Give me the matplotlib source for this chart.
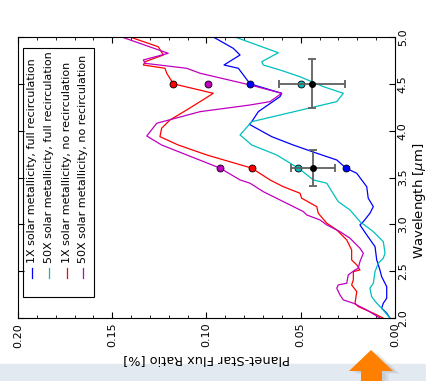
import matplotlib
matplotlib.use("Agg")
import matplotlib.pyplot as plt
from matplotlib.patches import Rectangle, Polygon
from matplotlib.lines import Line2D
from matplotlib.ticker import MultipleLocator

"================================================="
" Modelos (longitud de onda en um, cociente de flujo en %)"
wl_blue = [5.0, 4.879, 4.808, 4.719, 4.701, 4.666, 4.5, 4.399, 4.363, 4.203, 4.096, 4.068,
           3.936, 3.847, 3.759, 3.687, 3.6, 3.545, 3.402, 3.279, 3.189, 3.118, 3.029, 2.994,
           2.887, 2.762, 2.62, 2.513, 2.442, 2.335, 2.211, 2.158, 2.105, 2.051, 2.0]
fx_blue = [0.0964, 0.0858, 0.0822, 0.0893, 0.0907, 0.0831, 0.0769, 0.0601, 0.061, 0.0725,
           0.076, 0.0773, 0.0654, 0.054, 0.0415, 0.0309, 0.026, 0.0203, 0.015, 0.0142,
           0.0115, 0.0133, 0.0168, 0.0186, 0.015, 0.0106, 0.0097, 0.008, 0.0071, 0.0044,
           0.0044, 0.0062, 0.0071, 0.0044, 0.0027]

wl_cyan = [5.0, 4.832, 4.736, 4.701, 4.648, 4.576, 4.47, 4.399, 4.31, 4.096, 3.954, 3.847,
           3.741, 3.6, 3.474, 3.439, 3.296, 3.242, 3.154, 3.029, 2.922, 2.815, 2.692, 2.638,
           2.585, 2.495, 2.371, 2.318, 2.228, 2.158, 2.105, 2.0]
fx_cyan = [0.0849, 0.0619, 0.0707, 0.0699, 0.061, 0.0504, 0.038, 0.0274, 0.0309, 0.076,
           0.0822, 0.076, 0.0628, 0.0513, 0.0433, 0.0362, 0.0318, 0.0301, 0.0239, 0.0186,
           0.0115, 0.0062, 0.0053, 0.0062, 0.0089, 0.0106, 0.0115, 0.0133, 0.0124, 0.0097,
           0.0071, 0.0027]

wl_red = [5.0, 4.896, 4.808, 4.736, 4.701, 4.666, 4.613, 4.5, 4.399, 4.31, 4.221, 4.114,
          4.026, 3.936, 3.847, 3.741, 3.6, 3.474, 3.402, 3.332, 3.279, 3.189, 3.118, 3.012,
          2.94, 2.833, 2.727, 2.62, 2.567, 2.513, 2.495, 2.407, 2.353, 2.282, 2.158, 2.122,
          2.051, 2.0]
fx_red = [0.1406, 0.1256, 0.1229, 0.1326, 0.1335, 0.122, 0.1211, 0.1176, 0.0964, 0.1034,
          0.1105, 0.1194, 0.1238, 0.1247, 0.115, 0.0999, 0.076, 0.0663, 0.0593, 0.0504,
          0.0495, 0.0415, 0.0407, 0.0362, 0.0309, 0.0256, 0.023, 0.023, 0.0203, 0.0186,
          0.0221, 0.0221, 0.023, 0.0203, 0.0212, 0.0195, 0.0115, 0.0064]

wl_mag = [5.0, 4.826, 4.755, 4.719, 4.666, 4.613, 4.488, 4.399, 4.31, 4.274, 4.203, 4.079,
          3.943, 3.847, 3.741, 3.6, 3.474, 3.439, 3.349, 3.26, 3.136, 3.1, 3.047, 2.994,
          2.922, 2.852, 2.745, 2.692, 2.602, 2.531, 2.513, 2.46, 2.371, 2.353, 2.318, 2.247,
          2.193, 2.158, 2.086, 2.0]
fx_mag = [0.145, 0.1203, 0.1335, 0.1326, 0.1105, 0.1034, 0.0769, 0.0601, 0.0663, 0.0769,
          0.1034, 0.1264, 0.1317, 0.1238, 0.1105, 0.0928, 0.0822, 0.0769, 0.0699, 0.061,
          0.0486, 0.0468, 0.0398, 0.0362, 0.0292, 0.0239, 0.0186, 0.0168, 0.0186, 0.0195,
          0.0212, 0.0248, 0.0256, 0.0301, 0.0309, 0.0292, 0.0274, 0.0221, 0.015, 0.008]

" Valores de banda (3.6 y 4.5 um)"
wl_band = [3.6, 4.5]
band_blue = [0.026, 0.0769]
band_cyan = [0.0513, 0.050]
band_red = [0.076, 0.1176]
band_mag = [0.0928, 0.099]

" Observaciones"
wl_obs = [3.6, 4.5]
fx_obs = [0.0433, 0.0442]
fx_err = [0.0117, 0.0175]
wl_err = [0.19, 0.26]

labels = ["1X solar metallicity, full recirculation",
          "50X solar metallicity, full recirculation",
          "1X solar metallicity, no recirculation",
          "50X solar metallicity, no recirculation"]
colores = ["#0000ff", "#00bfbf", "#ff0000", "#bf00bf"]

"================================================="
W, H = 427, 381
fig = plt.figure(figsize=(W / 100, H / 100), dpi=100)

" Fondo inferior y flecha"
fig.patches.append(Rectangle((0, 0), 1, 17 / H, transform=fig.transFigure,
                             color='#e3e9f1', zorder=-10))
def px(pts):
    return [(x / W, 1 - y / H) for x, y in pts]
flecha = [(371, 350), (393, 371), (382, 371), (382, 381), (361, 381), (361, 371), (349, 371)]
for k in range(3):
    d = 3 + 2 * k
    fig.patches.append(Polygon(px([(x + d, y + d * 0.4) for x, y in flecha]),
                               transform=fig.transFigure, color='#404040', alpha=0.06,
                               lw=0, zorder=-9))
fig.patches.append(Polygon(px(flecha), transform=fig.transFigure, color='#ff8000',
                           lw=0, zorder=-8))

ax = fig.add_axes([18 / W, 1 - 318 / H, 377 / W, 281 / H])

series = [(wl_blue, fx_blue, band_blue), (wl_cyan, fx_cyan, band_cyan),
          (wl_red, fx_red, band_red), (wl_mag, fx_mag, band_mag)]
for (wl, fx, band), c in zip(series, colores):
    ax.plot(fx, wl, color=c, lw=0.9)
for (wl, fx, band), c in zip(series, colores):
    ax.plot(band, wl_band, 'o', color=c, mec='black', mew=0.6, ms=5, zorder=5)

ax.errorbar(fx_obs, wl_obs, xerr=fx_err, yerr=wl_err, fmt='o', color='black', ms=4,
            ecolor='#606060', elinewidth=1.3, capsize=3, capthick=1.3, zorder=6)

ax.set_xlim(0.20, 0.00)
ax.set_ylim(2.0, 5.0)
ax.xaxis.set_major_locator(MultipleLocator(0.05))
ax.xaxis.set_minor_locator(MultipleLocator(0.01))
ax.yaxis.set_major_locator(MultipleLocator(0.5))
ax.yaxis.tick_right()
ax.yaxis.set_label_position('right')
ax.tick_params(which='both', direction='in', top=True, bottom=True, left=True, right=True,
               labelsize=8)
ax.tick_params(which='major', length=4)
ax.tick_params(which='minor', length=2)
ax.tick_params(axis='x', labelrotation=90)
ax.tick_params(axis='y', labelrotation=90, pad=2)
for t in ax.get_yticklabels():
    t.set_va('center')

ax.set_xlabel("Planet-Star Flux Ratio [%]", rotation=180, fontsize=9.3, va='center')
ax.xaxis.set_label_coords(0.5, -0.148)
ax.set_ylabel(r"Wavelength [$\mu$m]", rotation=90, fontsize=9.5, va='center')
ax.yaxis.set_label_coords(1.064, 0.416)

" Leyenda girada"
ax.add_patch(Rectangle((0.0125, 0.0758), 0.19, 0.884, transform=ax.transAxes,
                       fill=False, ec='black', lw=0.8, zorder=7))
for xl, lab, c in zip([0.0371, 0.0822, 0.130, 0.1724], labels, colores):
    ax.add_line(Line2D([xl, xl], [0.142, 0.178], color=c, lw=0.9, transform=ax.transAxes))
    ax.text(xl, 0.196, lab, rotation=90, ha='center', va='bottom', fontsize=8,
            transform=ax.transAxes)

plt.savefig("out.png", dpi=100)
